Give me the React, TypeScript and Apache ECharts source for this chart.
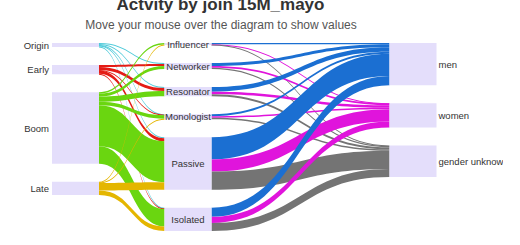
import React, { useEffect, useRef } from 'react';
import * as echarts from 'echarts';

const joinGroups = ['Origin', 'Early', 'Boom', 'Late'];
const roles = ['Influencer', 'Networker', 'Resonator', 'Monologist', 'Passive', 'Isolated'];
const genders = ['men', 'women', 'gender unknown'];

// flows join group -> role (rows: joinGroups, cols: roles)
const joinToRole = [
  [0, 1, 1, 0.5, 1, 0.5],
  [0, 2, 3, 0.5, 3, 0.5],
  [1.5, 3, 5, 3.5, 40.5, 17.5],
  [0.5, 0, 0, 0.5, 7.5, 4.5],
];

// flows role -> gender (rows: roles, cols: genders)
const roleToGender = [
  [1.2, 0.4, 0.4],
  [3, 1.7, 1.3],
  [4.5, 2.5, 2],
  [2, 1.5, 1.5],
  [22, 12, 18],
  [9, 6, 8],
];

const joinColors = ['#4cc9d9', '#e41c16', '#6ad610', '#e4b600'];
const genderColors = ['#1b6fd2', '#e014dc', '#747474'];

const FONT = '"Liberation Sans", Arial, sans-serif';

export default function App() {
  const ref = useRef<HTMLDivElement>(null);

  useEffect(() => {
    if (!ref.current) return;
    const chart = echarts.init(ref.current, undefined, { renderer: 'svg' });

    const nodeStyle = { color: '#e4defb', borderWidth: 0, opacity: 1 };
    const nodes: any[] = [];
    joinGroups.forEach((n) =>
      nodes.push({
        name: n,
        depth: 0,
        itemStyle: nodeStyle,
        label: { position: 'left', distance: 3 },
      })
    );
    roles.forEach((n) =>
      nodes.push({
        name: n,
        depth: 1,
        itemStyle: nodeStyle,
        label: { position: 'inside' },
      })
    );
    genders.forEach((n) =>
      nodes.push({
        name: n,
        depth: 3,
        itemStyle: nodeStyle,
        label: { position: 'right', distance: 2 },
      })
    );

    const links: any[] = [];
    joinToRole.forEach((row, i) =>
      row.forEach((v, j) => {
        if (v > 0)
          links.push({
            source: joinGroups[i],
            target: roles[j],
            value: v,
            lineStyle: { color: joinColors[i] },
          });
      })
    );
    roleToGender.forEach((row, i) =>
      row.forEach((v, j) => {
        if (v > 0)
          links.push({
            source: roles[i],
            target: genders[j],
            value: v,
            lineStyle: { color: genderColors[j] },
          });
      })
    );

    chart.setOption({
      animation: false,
      backgroundColor: '#ffffff',
      graphic: [
        {
          type: 'text',
          x: 220.5,
          y: 4,
          style: {
            text: 'Actvity by join 15M_mayo',
            font: `bold 17px ${FONT}`,
            fill: '#333333',
            align: 'center',
            verticalAlign: 'middle',
          },
        },
        {
          type: 'text',
          x: 221,
          y: 25,
          style: {
            text: 'Move your mouse over the diagram to show values',
            font: `12px ${FONT}`,
            fill: '#555555',
            align: 'center',
            verticalAlign: 'middle',
          },
        },
      ],
      series: [
        {
          type: 'sankey',
          left: 52,
          top: 43,
          right: 66.5,
          bottom: 14,
          nodeWidth: 47,
          nodeGap: 18,
          nodeAlign: 'left',
          layoutIterations: 0,
          draggable: false,
          emphasis: { disabled: true },
          label: {
            fontFamily: FONT,
            fontSize: 9.5,
            color: '#333333',
          },
          lineStyle: { curveness: 0.5, opacity: 1 },
          data: nodes,
          links: links,
        },
      ],
    });

    return () => chart.dispose();
  }, []);

  return (
    <div
      ref={ref}
      style={{ position: 'absolute', left: 0, top: 0, width: 503, height: 245 }}
    />
  );
}
